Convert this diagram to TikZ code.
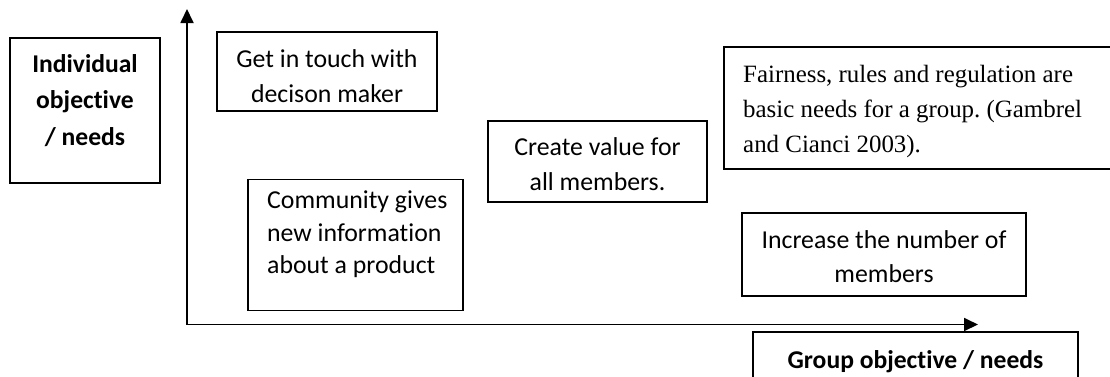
\documentclass[tikz,border=0pt]{standalone}
\usepackage{fontspec}
\setmainfont{Carlito}[Ligatures=NoCommon]
\newfontfamily\timesfont{Liberation Serif}
\usetikzlibrary{arrows.meta}
\frenchspacing
\tikzset{
  box/.style={draw, line width=1.1pt, inner sep=0pt},
  axis/.style={line width=1.8pt, {Triangle[length=14pt,width=13pt]}-{Triangle[length=14pt,width=13pt]}},
  txt/.style={anchor=base, inner sep=0pt, font=\fontsize{25.8}{30}\selectfont},
  txtl/.style={anchor=base west, inner sep=0pt, font=\fontsize{25.8}{30}\selectfont},
  bold/.style={anchor=base, inner sep=0pt, font=\fontsize{25.6}{30}\selectfont\bfseries},
  serif/.style={anchor=base west, inner sep=0pt, font=\fontsize{24.9}{30}\selectfont\timesfont},
}
\begin{document}
\begin{tikzpicture}[x=1pt, y=-1pt]
\clip (0,0) rectangle (1110,376);
\fill[white] (0,0) rectangle (1110,376);

% axes
\coordinate (ytip) at (187,9);
\coordinate (o) at (187,324.5);
\coordinate (xtip) at (978,324.5);
\draw[axis] (ytip) -- (o) -- (xtip);

% vertical axis caption
\node[box, minimum width=150pt, minimum height=145pt] (indiv) at (85,110.5) {};
\node[bold] (indiv1) at (85,72) {Individual};
\node[bold] (indiv2) at (85,108) {objective};
\node[bold] (indiv3) at (85,145) {/ needs};

% horizontal axis caption
\node[box, minimum width=325pt, minimum height=60pt] (group) at (915.5,362) {};
\node[bold] (group1) at (915.5,368) {Group objective / needs};

% statements
\node[box, minimum width=220pt, minimum height=79pt] (touch) at (327,71.5) {};
\node[txt] (touch1) at (327,67) {Get in touch with};
\node[txt] (touch2) at (327,102) {decison maker};

\node[box, minimum width=215pt, minimum height=131pt] (comm) at (355.5,245) {};
\node[txtl] (comm1) at (267,208) {Community gives};
\node[txtl] (comm2) at (267,241) {new information};
\node[txtl] (comm3) at (267,273) {about a product};

\node[box, minimum width=219pt, minimum height=81pt] (value) at (597.5,161.5) {};
\node[txt] (value1) at (597.5,155) {Create value for};
\node[txt] (value2) at (597.5,190.5) {all members.};

\node[box, minimum width=391pt, minimum height=122pt] (fair) at (919.5,108) {};
\node[serif] (fair1) at (743,82) {Fairness, rules and regulation are};
\node[serif] (fair2) at (743,117) {basic needs for a group. (Gambrel};
\node[serif] (fair3) at (743,152) {and Cianci 2003).};

\node[box, minimum width=284pt, minimum height=83pt] (incr) at (884,254.5) {};
\node[txt] (incr1) at (884,248) {Increase the number of};
\node[txt] (incr2) at (884,282) {members};
\end{tikzpicture}
\end{document}
